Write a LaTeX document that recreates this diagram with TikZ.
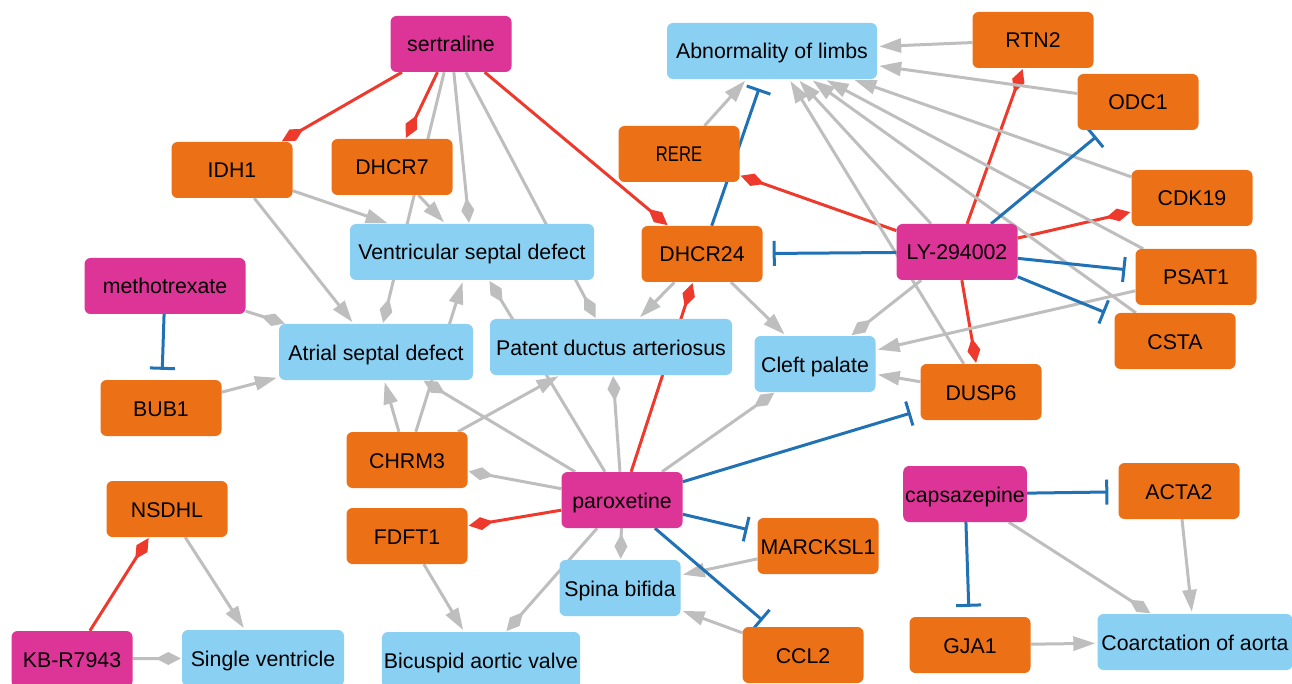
\documentclass[tikz,border=0pt]{standalone}
\usepackage{fontspec}
\setmainfont{Liberation Sans}
\usepackage{graphicx}
\usetikzlibrary{arrows.meta,backgrounds}
\definecolor{cmag}{RGB}{221,52,151}
\definecolor{corange}{RGB}{236,113,22}
\definecolor{cblue}{RGB}{137,208,243}
\definecolor{egray}{RGB}{190,190,190}
\definecolor{ered}{RGB}{238,58,44}
\definecolor{eblue}{RGB}{33,113,181}
\begin{document}
\begin{tikzpicture}[x=1pt,y=-1pt,
  base/.style={rounded corners=6pt, minimum height=56pt, minimum width=121pt, inner sep=2pt,
    text height=16pt, text depth=0pt,
    font=\fontsize{21.3}{24}\selectfont, text=black},
  drug/.style={base, fill=cmag},
  gene/.style={base, fill=corange},
  dis/.style={base, fill=cblue},
  actE/.style={draw=egray, line width=3pt, -{Triangle[length=22pt,width=14pt]}, shorten >=2pt},
  assE/.style={draw=egray, line width=3pt, -{Diamond[length=25pt,width=13pt]}, shorten >=1pt},
  redE/.style={draw=ered, line width=3pt, -{Diamond[length=25pt,width=13pt]}, shorten >=1pt},
  inhE/.style={draw=eblue, line width=3pt, -{Bar[width=25pt]}, shorten >=10pt}
]
\useasboundingbox (0,0) rectangle (1292,684);
% nodes
\node[drug] (ser) at (451,44) {sertraline};
\node[gene] (idh1) at (232,170) {IDH1};
\node[gene] (dhcr7) at (392,167) {DHCR7};
\node[drug, minimum width=161pt] (met) at (165,286) {methotrexate};
\node[dis, minimum width=244pt] (vsd) at (472,252) {Ventricular septal defect};
\node[dis, minimum width=194pt] (asd) at (376,352) {Atrial septal defect};
\node[dis, minimum width=242pt] (pda) at (611,347) {Patent ductus arteriosus};
\node[gene] (bub1) at (161,408) {BUB1};
\node[dis, minimum width=210pt] (abn) at (772,51) {Abnormality of limbs};
\node[gene] (rtn2) at (1033,40) {RTN2};
\node[gene] (odc1) at (1138,102) {ODC1};
\node[gene] (rere) at (679,154) {\scalebox{0.78}[1]{RERE}};
\node[gene] (cdk19) at (1192,198) {CDK19};
\node[gene] (dhcr24) at (702,254) {DHCR24};
\node[drug] (ly) at (957,252) {LY-294002};
\node[gene] (psat1) at (1196,277) {PSAT1};
\node[gene] (csta) at (1175,341) {CSTA};
\node[dis] (cleft) at (815,364) {Cleft palate};
\node[gene] (dusp6) at (981,392) {DUSP6};
\node[gene] (chrm3) at (407,460) {CHRM3};
\node[drug] (par) at (622,500) {paroxetine};
\node[gene] (fdft1) at (407,536) {FDFT1};
\node[gene] (nsdhl) at (167,509) {NSDHL};
\node[dis] (spina) at (620,588) {Spina bifida};
\node[gene] (marck) at (818,546) {MARCKSL1};
\node[gene] (ccl2) at (803,655) {CCL2};
\node[drug] (cap) at (965,494) {capsazepine};
\node[gene] (acta2) at (1179,491) {ACTA2};
\node[gene] (gja1) at (970,645) {GJA1};
\node[dis, minimum width=195pt] (coa) at (1195,642) {Coarctation of aorta};
\node[drug] (kb) at (72,659) {KB-R7943};
\node[dis, minimum width=162pt] (sv) at (263,658) {Single ventricle};
\node[dis, minimum width=195pt] (bav) at (481,660) {Bicuspid aortic valve};
% edges
\begin{scope}[on background layer]
% red diamond
\draw[redE] (ser) -- (idh1);
\draw[redE] (ser) -- (dhcr7);
\draw[redE] (ser) -- (dhcr24);
\draw[redE] (ly) -- (rtn2);
\draw[redE] (ly) -- (cdk19);
\draw[redE] (ly) -- (rere);
\draw[redE] (ly) -- (dusp6);
\draw[redE] (par) -- (dhcr24);
\draw[redE] (par) -- (fdft1);
\draw[redE] (kb) -- (nsdhl);
% gray diamond
\draw[assE] (ser) -- (asd);
\draw[assE] (ser) -- (vsd);
\draw[assE] (ser) -- (pda);
\draw[assE] (met) -- (asd);
\draw[assE] (par) -- (asd);
\draw[assE] (par) -- (vsd);
\draw[assE] (par) -- (pda);
\draw[assE] (par) -- (chrm3);
\draw[assE] (par) -- (cleft);
\draw[assE] (par) -- (spina);
\draw[assE] (par) -- (bav);
\draw[assE] (ly) -- (cleft);
\draw[assE] (kb) -- (sv);
\draw[assE] (cap) -- (coa);
% gray arrow
\draw[actE] (idh1) -- (vsd);
\draw[actE] (idh1) -- (asd);
\draw[actE] (dhcr7) -- (vsd);
\draw[actE] (bub1) -- (asd);
\draw[actE] (chrm3) -- (asd);
\draw[actE] (chrm3) -- (vsd);
\draw[actE] (chrm3) -- (pda);
\draw[actE] (dhcr24) -- (pda);
\draw[actE] (dhcr24) -- (cleft);
\draw[actE] (psat1) -- (cleft);
\draw[actE] (dusp6) -- (cleft);
\draw[actE] (rtn2) -- (abn);
\draw[actE] (odc1) -- (abn);
\draw[actE] (cdk19) -- (abn);
\draw[actE] (psat1) -- (abn);
\draw[actE] (csta) -- (abn);
\draw[actE] (ly) -- (abn);
\draw[actE] (dusp6) -- (abn);
\draw[actE] (rere) -- (abn);
\draw[actE] (fdft1) -- (bav);
\draw[actE] (marck) -- (spina);
\draw[actE] (ccl2) -- (spina);
\draw[actE] (nsdhl) -- (sv);
\draw[actE] (acta2) -- (coa);
\draw[actE] (gja1) -- (coa);
% blue inhibition
\draw[inhE] (met) -- (bub1);
\draw[inhE] (dhcr24) -- (abn);
\draw[inhE] (ly) -- (odc1);
\draw[inhE] (ly) -- (dhcr24);
\draw[inhE] (ly) -- (psat1);
\draw[inhE] (ly) -- (csta);
\draw[inhE] (par) -- (dusp6);
\draw[inhE] (par) -- (marck);
\draw[inhE] (par) -- (ccl2);
\draw[inhE] (cap) -- (acta2);
\draw[inhE] (cap) -- (gja1);
\end{scope}
\end{tikzpicture}
\end{document}
